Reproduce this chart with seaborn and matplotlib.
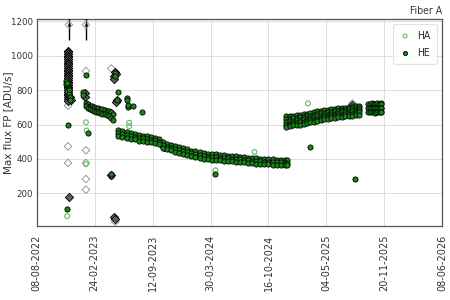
import os
import numpy as np
import pandas as pd
import matplotlib
matplotlib.use("Agg")
import matplotlib.pyplot as plt
import matplotlib.dates as mdates
from matplotlib.ticker import MultipleLocator, FixedLocator
from matplotlib import font_manager
import seaborn as sns

# ---------------- data ----------------
bandA_dates = ["2023-01-26", "2023-02-02", "2023-02-09", "2023-02-16", "2023-02-23", "2023-03-02",
               "2023-03-09", "2023-03-16", "2023-03-23", "2023-03-30", "2023-04-06", "2023-04-13",
               "2023-04-20", "2023-04-27"]
bandA_hi = [728, 718, 710, 706, 702, 698, 694, 690, 688, 684, 680, 676, 670, 662]
bandA_lo = [706, 694, 688, 682, 680, 675, 670, 667, 664, 660, 655, 648, 640, 628]

bandB_dates = ["2023-05-17", "2023-05-31", "2023-06-14", "2023-06-28", "2023-07-12", "2023-07-26",
               "2023-08-09", "2023-08-23", "2023-09-06", "2023-09-20", "2023-10-04", "2023-10-18",
               "2023-11-01", "2023-11-15", "2023-11-29", "2023-12-13", "2023-12-27", "2024-01-10",
               "2024-01-24", "2024-02-07", "2024-02-21", "2024-03-06", "2024-03-20", "2024-04-03",
               "2024-04-17", "2024-05-01", "2024-05-15", "2024-05-29", "2024-06-12", "2024-06-26",
               "2024-07-10", "2024-07-24", "2024-08-07", "2024-08-21", "2024-09-04", "2024-09-18",
               "2024-10-02", "2024-10-16", "2024-10-30", "2024-11-13", "2024-11-27", "2024-12-11",
               "2024-12-20"]
bandB_hi = [566, 562, 556, 552, 546, 540, 536, 532, 528, 524, 516, 498, 488, 482, 475, 468, 462, 456,
            448, 444, 438, 434, 430, 428, 426, 423, 421, 419, 418, 416, 414, 412, 408, 406, 404, 402,
            401, 400, 398, 396, 396, 394, 394]
bandB_mid = [548, 545, 540, 535, 530, 522, 520, 515, 512, 508, 500, 482, 470, 465, 458, 452, 446, 440,
             432, 428, 422, 418, 414, 412, 410, 407, 405, 403, 402, 400, 398, 396, 392, 390, 388, 386,
             385, 384, 382, 380, 380, 378, 378]
bandB_lo = [532, 528, 524, 518, 514, 506, 503, 499, 496, 492, 484, 466, 455, 449, 442, 436, 430, 424,
            416, 412, 406, 402, 398, 396, 394, 391, 389, 387, 386, 384, 382, 380, 376, 374, 372, 370,
            369, 368, 366, 364, 364, 362, 362]

bandC_dates = ["2024-12-16", "2024-12-28", "2025-01-09", "2025-01-21", "2025-02-02", "2025-02-14",
               "2025-02-26", "2025-03-10", "2025-03-22", "2025-04-03", "2025-04-15", "2025-04-27",
               "2025-05-09", "2025-05-21", "2025-06-02", "2025-06-14", "2025-06-26", "2025-07-08",
               "2025-07-20", "2025-08-01", "2025-08-13", "2025-08-25"]
bandC_hi = [648, 650, 652, 655, 658, 660, 664, 666, 670, 676, 680, 682, 685, 688, 690, 694, 696, 698,
            700, 702, 705, 708]
bandC_hi2 = [632, 634, 637, 640, 643, 645, 650, 652, 656, 662, 666, 668, 671, 674, 677, 681, 683, 685,
             688, 690, 692, 695]
bandC_mid = [615, 618, 622, 625, 628, 630, 635, 638, 642, 648, 652, 655, 658, 660, 664, 668, 670, 672,
             675, 677, 680, 682]
bandC_lo2 = [600, 604, 608, 611, 614, 616, 621, 625, 629, 635, 639, 642, 646, 648, 652, 656, 658, 660,
             662, 664, 668, 670]
bandC_lo = [585, 590, 595, 598, 600, 602, 608, 612, 616, 622, 626, 630, 634, 636, 640, 644, 646, 648,
            650, 652, 656, 658]

bandD_dates = ["2025-09-26", "2025-10-02", "2025-10-08", "2025-10-14", "2025-10-20", "2025-10-26",
               "2025-11-01", "2025-11-07", "2025-11-10"]
bandD_hi = [722, 720, 724, 722, 720, 723, 721, 724, 722]
bandD_mid = [697, 695, 699, 696, 694, 698, 696, 699, 697]
bandD_lo = [672, 670, 674, 671, 669, 673, 671, 674, 672]

he_out_dates = ["2022-11-18", "2022-11-18", "2022-11-22", "2022-11-27", "2022-11-27", "2022-12-01",
                "2022-12-01", "2022-11-25", "2022-11-21", "2023-01-14", "2023-01-14", "2023-01-25",
                "2023-01-31", "2023-05-14", "2023-05-12", "2023-06-15", "2023-06-15", "2023-06-19",
                "2023-06-19", "2023-07-07", "2023-08-07", "2023-04-22", "2023-04-22", "2023-05-05",
                "2023-05-05", "2024-04-16", "2025-03-10", "2025-08-11"]
he_out_vals = [855, 835, 840, 800, 780, 760, 745, 595, 106, 790, 770, 890,
               549, 790, 742, 753, 740, 703, 715, 705, 672, 300, 310, 900,
               880, 315, 470, 282]

ha_dates = ["2022-11-21", "2023-01-25", "2023-01-25", "2023-01-27", "2023-06-23", "2023-06-23",
            "2024-04-16", "2024-08-29", "2025-03-01", "2022-11-20", "2022-11-28", "2023-02-20",
            "2023-03-25", "2023-07-20", "2023-10-10", "2024-01-15", "2024-06-01", "2024-11-01",
            "2025-01-10", "2025-05-01", "2025-10-15"]
ha_vals = [67, 613, 370, 565, 610, 590, 334, 440, 723, 850, 790, 690, 670, 528, 495, 436, 402, 382,
           620, 660, 700]

dk_dates = ["2022-11-24"] * 30 + ["2022-12-02", "2022-12-05", "2022-11-27", "2023-01-22", "2023-01-22",
                                  "2023-05-05", "2023-05-07", "2023-05-03", "2023-05-02", "2023-05-12",
                                  "2023-05-10", "2023-04-23", "2023-05-03", "2023-05-04", "2023-10-20",
                                  "2025-08-02"]
dk_vals = [1030, 1020, 1010, 1000, 990, 980, 970, 960, 950, 940, 930, 920, 910, 900, 890, 880,
           870, 860, 850, 840, 830, 820, 810, 800, 790, 780, 770, 760, 750, 735,
           760, 745, 180, 785, 760, 907, 895, 880, 862, 742, 730, 305, 62, 50, 470, 712]

lt_dates = ["2022-11-24", "2022-11-24", "2022-11-24", "2023-01-25", "2023-01-25", "2023-01-25",
            "2023-01-25", "2023-01-25", "2023-04-22", "2025-08-02", "2023-05-06"]
lt_vals = [710, 473, 377, 911, 450, 377, 283, 221, 926, 723, 35]

eb_dates = ["2022-11-27", "2023-01-25"]
eb_vals = [1180, 1180]
eb_err = [90, 90]

x_tick_dates = ["2022-08-08", "2023-02-24", "2023-09-12", "2024-03-30",
                "2024-10-16", "2025-05-04", "2025-11-20", "2026-06-08"]

# ---------------- frames ----------------
def band_frame(dates, *rows):
    parts = [pd.DataFrame({"date": pd.to_datetime(dates), "val": r}) for r in rows]
    return pd.concat(parts, ignore_index=True)

he = pd.concat([
    band_frame(bandA_dates, bandA_hi, bandA_lo),
    band_frame(bandB_dates, bandB_hi, bandB_mid, bandB_lo),
    band_frame(bandC_dates, bandC_hi, bandC_hi2, bandC_mid, bandC_lo2, bandC_lo),
    band_frame(bandD_dates, bandD_hi, bandD_mid, bandD_lo),
    pd.DataFrame({"date": pd.to_datetime(he_out_dates), "val": he_out_vals}),
], ignore_index=True)
ha = pd.DataFrame({"date": pd.to_datetime(ha_dates), "val": ha_vals})
dk = pd.DataFrame({"date": pd.to_datetime(dk_dates), "val": dk_vals})
lt = pd.DataFrame({"date": pd.to_datetime(lt_dates), "val": lt_vals})
eb = pd.DataFrame({"date": pd.to_datetime(eb_dates), "val": eb_vals, "err": eb_err})

# ---------------- fonts ----------------
sns.set_style("white")
plt.rcParams["font.family"] = ["DejaVu Sans"]


def find_narrow():
    files = [f.fname for f in font_manager.fontManager.ttflist]
    for fn in files:
        b = os.path.basename(fn)
        if "SansNarrow" in b.replace(" ", "") and "Regular" in b:
            return fn, 8.0
    for fn in files:
        b = os.path.basename(fn)
        if b == "DejaVuSansCondensed.ttf":
            return fn, 6.8
    return None, 6.3


narrow_file, tick_size = find_narrow()
if narrow_file:
    tick_fp = font_manager.FontProperties(fname=narrow_file, size=tick_size)
    title_fp = font_manager.FontProperties(fname=narrow_file, size=7.5)
    leg_fp = font_manager.FontProperties(fname=narrow_file, size=7.5)
else:
    tick_fp = font_manager.FontProperties(family="DejaVu Sans", size=tick_size)
    title_fp = font_manager.FontProperties(family="DejaVu Sans", size=7)
    leg_fp = font_manager.FontProperties(family="DejaVu Sans", size=7)

# ---------------- plot ----------------
fig = plt.figure(figsize=(4.5, 3), dpi=100)
ax = fig.add_axes([0.0816, 0.2467, 0.9013, 0.689])

ax.grid(True, color="#dcdcdc", lw=0.7, zorder=0)
ax.set_axisbelow(True)

sns.scatterplot(data=lt, x="date", y="val", ax=ax, marker="D", s=15,
                facecolor="none", edgecolor="#9a9a9a", linewidth=0.7, legend=False, zorder=2)
sns.scatterplot(data=dk, x="date", y="val", ax=ax, marker="D", s=18,
                color="#5c5c5c", edgecolor="black", linewidth=0.6, legend=False, zorder=2)
sns.scatterplot(data=ha, x="date", y="val", ax=ax, marker="o", s=12,
                facecolor="none", edgecolor="#5cbf5c", linewidth=0.8, label="HA", zorder=3)
sns.scatterplot(data=he, x="date", y="val", ax=ax, marker="o", s=14,
                color="#1a841a", edgecolor="black", linewidth=0.6, label="HE", zorder=4)

ax.errorbar(eb["date"], eb["val"], yerr=eb["err"], fmt="none", ecolor="black", elinewidth=1.0, zorder=5)
sns.scatterplot(data=eb, x="date", y="val", ax=ax, marker="D", s=15,
                facecolor="none", edgecolor="#9a9a9a", linewidth=0.7, legend=False, zorder=5)
sns.scatterplot(data=eb, x="date", y="val", ax=ax, marker="o", s=4,
                color="black", linewidth=0, legend=False, zorder=6)

ax.set_xlim(pd.Timestamp("2022-08-08"), pd.Timestamp("2026-06-08"))
ax.set_ylim(10, 1212)

major = [mdates.date2num(pd.Timestamp(d)) for d in x_tick_dates]
ax.xaxis.set_major_locator(FixedLocator(major))
ax.xaxis.set_minor_locator(FixedLocator(np.arange(major[0], major[-1] + 1, 50)))
ax.xaxis.set_major_formatter(mdates.DateFormatter("%d-%m-%Y"))
ax.yaxis.set_major_locator(MultipleLocator(200))
ax.yaxis.set_minor_locator(MultipleLocator(50))
ax.yaxis.set_major_formatter(matplotlib.ticker.FuncFormatter(lambda v, p: "" if v < 100 else f"{int(v)}"))

ax.tick_params(axis="both", which="major", direction="in", length=4, width=0.7,
               colors="#333333", labelcolor="#333333")
ax.tick_params(axis="both", which="minor", direction="in", length=2, width=0.6, colors="#555555")
ax.tick_params(axis="x", which="major", direction="inout", length=5, labelsize=7)
ax.tick_params(axis="y", which="major", pad=3)
for lab in ax.get_xticklabels():
    lab.set_rotation(90)
for lab in ax.get_yticklabels():
    lab.set_fontproperties(tick_fp)

ax.set_xlabel("")
ax.set_ylabel("Max flux FP [ADU/s]", fontsize=7.5, color="#333333")
ax.yaxis.set_label_coords(-0.058, 0.5)
ax.set_title("Fiber A", loc="right", color="#333333", pad=4, fontproperties=title_fp)

for sp in ax.spines.values():
    sp.set_visible(True)
    sp.set_color("#555555")
    sp.set_linewidth(0.9)

leg = ax.legend(loc="upper right", frameon=True, markerscale=0.8,
                handletextpad=0.6, borderpad=0.6, labelspacing=0.7, handlelength=1.2,
                prop=leg_fp)
leg.get_frame().set_edgecolor("#dddddd")
leg.get_frame().set_linewidth(0.8)

fig.savefig("out.png", dpi=100)
